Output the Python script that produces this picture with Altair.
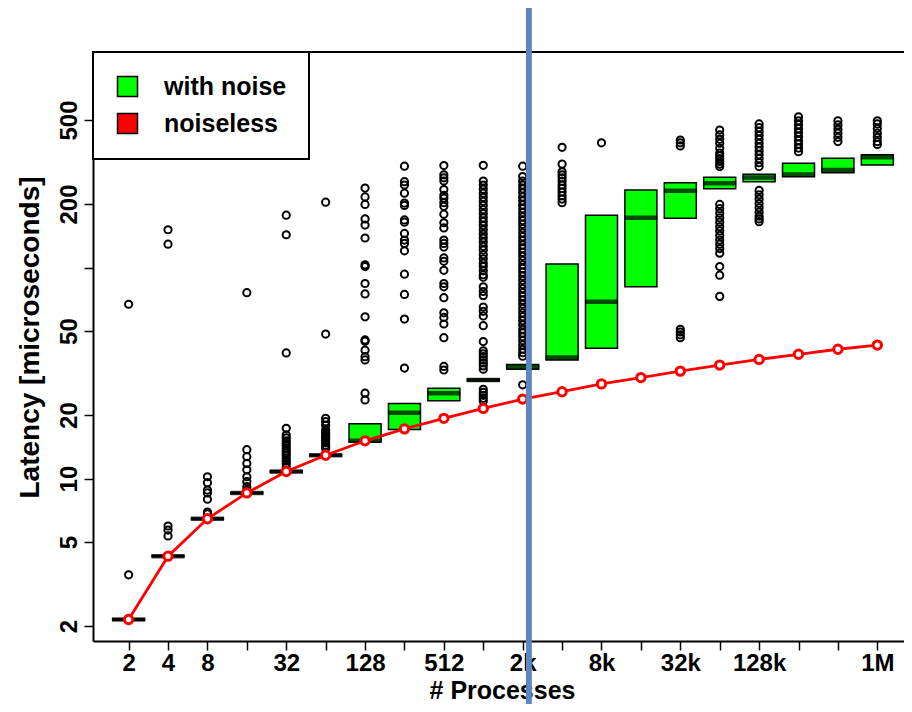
import json
import altair as alt
import pandas as pd

# ---------------- data ----------------
labels = ["2", "4", "8", "16", "32", "64", "128", "256", "512", "1k",
          "2k", "4k", "8k", "16k", "32k", "64k", "128k", "256k", "512k", "1M"]
shown = ["2", "4", "8", "", "32", "", "128", "", "512", "",
         "2k", "", "8k", "", "32k", "", "128k", "", "", "1M"]

q1 = [2.13, 4.26, 6.40, 8.48, 10.7, 12.8, 14.9, 17.1, 23.4, 29.0,
      33.0, 36.5, 41.4, 81.0, 171, 236, 255, 269, 281, 306]
median = [2.15, 4.29, 6.45, 8.55, 10.8, 12.9, 15.1, 20.5, 25.4, 29.3,
          33.7, 37.5, 68.9, 172, 231, 251, 267, 276, 290, 333]
q3 = [2.17, 4.32, 6.50, 8.62, 10.9, 13.0, 18.2, 22.7, 26.8, 29.6,
      34.7, 104, 177, 233, 252, 268, 277, 312, 329, 342]

noiseless = [2.15, 4.29, 6.45, 8.55, 10.8, 12.9, 15.1, 17.2, 19.3, 21.5,
             23.8, 25.8, 28.1, 30.1, 32.3, 34.5, 36.7, 38.8, 41.0, 42.9]

out_2 = [3.5, 67]
out_4 = [5.35, 5.7, 5.96, 129, 151]
out_8 = [6.8, 6.94, 7.98, 8.55, 8.82, 9.56, 10.2]
out_16 = [8.8, 9.15, 9.67, 10.2, 11.0, 11.8, 12.7, 13.7, 76]
out_32 = [11.4, 11.8, 12.1, 12.5, 12.9, 13.2, 13.5, 13.9, 14.3, 14.7, 15.1,
          15.6, 16.1, 17.3, 39.4, 143, 177]
out_64 = [13.9, 14.1, 14.4, 14.8, 15.2, 15.5, 15.8, 16.1, 16.4, 16.7, 17.0,
          17.9, 18.6, 19.3, 48.4, 204]
out_128 = [23.6, 25.4, 36.5, 37.8, 40.6, 44.8, 45.4, 58.4, 75, 84, 101, 103,
           138, 159, 170, 199, 216, 238]
out_256 = [33.4, 57, 74.6, 93, 120, 130, 135, 145, 164, 168, 197, 202, 225,
           246, 255, 302]
out_512 = [32.7, 34, 46.5, 54, 58, 61, 72, 81, 84, 97, 107, 111, 125, 130,
           135, 154, 163, 179, 195, 203, 213, 220, 234, 257, 266, 275, 304]
out_1k = [23.3, 24.0, 24.8, 25.6, 26.5, 33, 34.2, 35.3, 36.5, 37.8, 39, 40.3,
          44.6, 53, 59, 62, 65, 73.6, 77, 81, 90, 92.5, 96.5, 101, 105, 110,
          115, 121, 126, 132, 138, 144, 151, 158, 165, 172, 180, 188, 197,
          206, 215, 225, 235, 246, 257, 305]
out_2k = [27.8, 38, 39.5, 41, 43, 45, 47, 49, 51, 53.5, 56, 58.5, 61, 64, 67,
          70, 73, 76, 79.5, 83, 87, 91, 95, 99, 103, 108, 113, 118, 123, 128,
          134, 140, 146, 153, 160, 167, 174, 182, 190, 198, 207, 216, 226,
          236, 246, 257, 270, 302]
out_4k = [203, 211, 219, 228, 237, 246, 256, 266, 275, 284, 309, 371]
out_8k = [390]
out_16k = []
out_32k = [46.5, 48, 49.5, 51, 377, 390, 402]
out_64k = [73, 92, 101, 117, 123, 129, 135, 142, 149, 156, 164, 172, 181,
           190, 199, 301, 309, 318, 328, 338, 348, 367, 388, 405, 425, 448]
out_128k = [165, 170, 175, 183, 192, 201, 211, 221, 232, 301, 314, 328, 342,
            357, 372, 388, 405, 422, 440, 460, 479]
out_256k = [354, 368, 384, 400, 418, 436, 455, 475, 496, 518]
out_512k = [395, 414, 433, 452, 474, 496]
out_1M = [383, 395, 414, 433, 456, 479, 496]

outliers = [out_2, out_4, out_8, out_16, out_32, out_64, out_128, out_256,
            out_512, out_1k, out_2k, out_4k, out_8k, out_16k, out_32k,
            out_64k, out_128k, out_256k, out_512k, out_1M]

series = ["with noise", "noiseless"]
colors = ["#00FF00", "#FF0000"]
y_ticks = [2, 5, 10, 20, 50, 100, 200, 500]

# ---------------- tables ----------------
pos = list(range(len(labels)))
box_df = pd.DataFrame({"pos": pos, "label": labels, "q1": q1,
                       "median": median, "q3": q3})
line_df = pd.DataFrame({"pos": pos, "noiseless": noiseless})
out_df = pd.DataFrame([{"pos": i, "value": v}
                       for i, vals in enumerate(outliers) for v in vals])
legend_df = pd.DataFrame({"series": series, "pos": pos[:2],
                          "noiseless": noiseless[:2]})

W, H = 811, 589
FONT = "Liberation Sans"

xscale = alt.Scale(domain=[-0.777, 19.55], nice=False, zero=False)
yscale = alt.Scale(type="log", domain=[1.7, 1050], nice=False)

xaxis = alt.Axis(values=pos, labelExpr=json.dumps(shown) + "[datum.value]",
                 title="# Processes", grid=False, labelOverlap=False,
                 labelFlush=False, tickSize=9, tickWidth=1.5, domainWidth=2,
                 labelFontSize=24, labelFontWeight="bold", labelPadding=1,
                 titleFontSize=25, titleFontWeight="bold", titleX=409,
                 titleY=49, titleBaseline="middle", titleAlign="center")
yaxis = alt.Axis(values=y_ticks,
                 labelExpr="datum.value == 100 ? '' : format(datum.value, 'd')",
                 title="Latency [microseconds]", grid=False,
                 labelOverlap=False, labelFlush=False, labelAngle=-90,
                 labelAlign="center", labelBaseline="bottom", labelPadding=3,
                 tickSize=9, tickWidth=1.5, domainWidth=2,
                 labelFontSize=24, labelFontWeight="bold",
                 titleFontSize=28, titleFontWeight="bold", titleX=-63,
                 titleY=285, titleAngle=270, titleBaseline="middle",
                 titleAlign="center")


def X():
    return alt.X("pos:Q", scale=xscale, axis=xaxis)


def Y(field):
    return alt.Y(field, scale=yscale, axis=yaxis)


boxes = alt.Chart(box_df).mark_bar(
    size=32, fill="#00FF00", stroke="black", strokeWidth=1.5
).encode(x=X(), y=Y("q1:Q"), y2="q3:Q")

medians = alt.Chart(box_df).mark_tick(
    orient="horizontal", size=33, thickness=4.5, color="black"
).encode(x=X(), y=Y("median:Q"))

outs = alt.Chart(out_df).mark_point(
    shape="circle", filled=False, size=52, strokeWidth=2, color="black",
    opacity=1
).encode(x=X(), y=Y("value:Q"))

red_line = alt.Chart(line_df).mark_line(
    color="#FF0000", strokeWidth=2.8
).encode(x=X(), y=Y("noiseless:Q"))

red_pts = alt.Chart(line_df).mark_point(
    shape="circle", filled=True, fill="white", stroke="#FF0000",
    strokeWidth=3, size=70, opacity=1
).encode(x=X(), y=Y("noiseless:Q"))

legend_layer = alt.Chart(legend_df).mark_square(opacity=0).encode(
    x=X(), y=Y("noiseless:Q"),
    color=alt.Color("series:N",
                    scale=alt.Scale(domain=series, range=colors),
                    legend=alt.Legend(
                        title=None, orient="none", legendX=0, legendY=0,
                        fillColor="white", strokeColor="black", padding=22,
                        symbolType="square", symbolSize=400,
                        symbolOpacity=1, symbolStrokeColor="black",
                        symbolStrokeWidth=1.5, labelFontSize=25,
                        labelFont=FONT, labelFontWeight="bold",
                        labelOffset=24, rowPadding=10, labelColor="black")))

top_rule = alt.Chart(box_df).mark_rule(color="black", strokeWidth=2).encode(
    y=alt.value(0), x=alt.value(0), x2=alt.value(W))

blue_rule = alt.Chart(box_df).mark_rule(
    color="#5B87C5", strokeWidth=5
).encode(x=alt.datum(10.15), y=alt.value(-44), y2=alt.value(H + 63))

chart = alt.layer(
    boxes, medians, outs, red_line, red_pts, legend_layer, top_rule, blue_rule
).properties(
    width=W, height=H,
    autosize=alt.AutoSizeParams(type="none"),
    padding={"left": 85, "top": 44, "right": 0, "bottom": 63},
).configure(font=FONT).configure_view(stroke=None).configure_axis(
    domainColor="black", tickColor="black", labelColor="black",
    titleColor="black", labelFont=FONT, titleFont=FONT
).configure_legend(strokeWidth=2)

chart.save("out.html", embed_options={"renderer": "svg", "actions": False})
